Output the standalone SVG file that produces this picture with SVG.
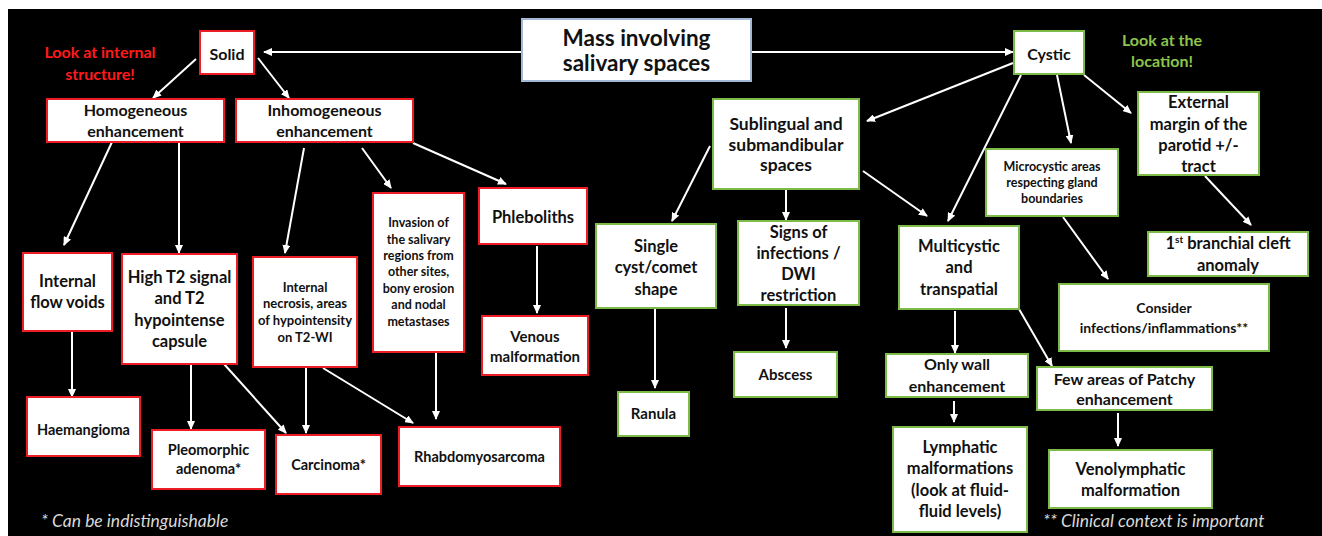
<svg xmlns="http://www.w3.org/2000/svg" width="1322" height="536" viewBox="0 0 1322 536">
<defs>
<marker id="ah" markerWidth="9" markerHeight="8" refX="8" refY="4" orient="auto" markerUnits="userSpaceOnUse">
<path d="M0,0 L9,4 L0,8 Z" fill="#ffffff"/>
</marker>
<style>
.r{fill:#ffffff;stroke:#ee1c24;stroke-width:2}
.g{fill:#ffffff;stroke:#7dbb48;stroke-width:2}
.b{fill:#ffffff;stroke:#a3b8d4;stroke-width:2}
.t{font-family:Lato,"Open Sans",sans-serif;font-weight:bold;fill:#111111;text-anchor:middle}
.c line{stroke:#ffffff;stroke-width:2;marker-end:url(#ah)}
.foot{font-family:Lato,"Open Sans",sans-serif;font-style:italic;fill:#d9d9d9;font-size:17.5px}
</style>
</defs>
<rect x="0" y="0" width="1322" height="536" fill="#ffffff"/>
<rect x="8" y="9" width="1314" height="527" fill="#000000"/>

<text x="100" y="58" font-family="Lato,'Open Sans',sans-serif" font-weight="bold" font-size="16" fill="#ff1a1a" text-anchor="middle"><tspan x="100" y="58">Look at internal</tspan><tspan x="100" y="80">structure!</tspan></text>
<text x="1162" y="46" font-family="Lato,'Open Sans',sans-serif" font-weight="bold" font-size="16" fill="#8cc44c" text-anchor="middle"><tspan x="1162" y="46">Look at the</tspan><tspan x="1162" y="67">location!</tspan></text>

<g class="c" id="connectors">
<line x1="522" y1="52" x2="264" y2="52"/>
<line x1="751" y1="52" x2="1013" y2="52"/>
<line x1="196" y1="59" x2="153" y2="98"/>
<line x1="258" y1="58" x2="289" y2="98"/>
<line x1="1013" y1="63" x2="867" y2="121"/>
<line x1="1057" y1="75" x2="1071" y2="143"/>
<line x1="1084" y1="75" x2="1131" y2="113"/>
<line x1="1021" y1="75" x2="948" y2="221"/>
<line x1="1205" y1="176" x2="1251" y2="225"/>
<line x1="1063" y1="217" x2="1108" y2="279"/>
<line x1="710" y1="146" x2="672" y2="221"/>
<line x1="786" y1="189" x2="786" y2="220"/>
<line x1="863" y1="171" x2="927" y2="216"/>
<line x1="786" y1="308" x2="786" y2="348"/>
<line x1="655" y1="308" x2="655" y2="388"/>
<line x1="955" y1="311" x2="955" y2="353"/>
<line x1="1019" y1="309" x2="1052" y2="366"/>
<line x1="954" y1="401" x2="954" y2="422"/>
<line x1="1118" y1="413" x2="1118" y2="446"/>
<line x1="112" y1="142" x2="64" y2="245"/>
<line x1="179" y1="142" x2="179" y2="253"/>
<line x1="304" y1="148" x2="285" y2="253"/>
<line x1="362" y1="148" x2="391" y2="188"/>
<line x1="413" y1="143" x2="506" y2="184"/>
<line x1="537" y1="246" x2="537" y2="313"/>
<line x1="72" y1="331" x2="72" y2="397"/>
<line x1="191" y1="364" x2="191" y2="429"/>
<line x1="224" y1="364" x2="286" y2="433"/>
<line x1="306" y1="367" x2="306" y2="433"/>
<line x1="323" y1="368" x2="413" y2="423"/>
<line x1="436" y1="352" x2="436" y2="419"/>
</g>

<g id="mass"><rect class="b" x="522" y="19" width="229" height="62"/>
<text class="t" font-size="22.5"><tspan x="636.5" y="46">Mass involving</tspan><tspan x="636.5" y="71">salivary spaces</tspan></text></g>

<g id="solid"><rect class="r" x="200" y="31" width="54" height="43"/>
<text class="t" font-size="16" x="227" y="60">Solid</text></g>

<g id="cystic"><rect class="g" x="1014" y="31" width="70" height="43"/>
<text class="t" font-size="16" x="1049" y="60">Cystic</text></g>

<g id="homog"><rect class="r" x="47" y="99" width="177" height="43"/>
<text class="t" font-size="16"><tspan x="135.5" y="116">Homogeneous</tspan><tspan x="135.5" y="137">enhancement</tspan></text></g>

<g id="inhomog"><rect class="r" x="236" y="99" width="177" height="43"/>
<text class="t" font-size="16"><tspan x="324.5" y="116">Inhomogeneous</tspan><tspan x="324.5" y="137">enhancement</tspan></text></g>

<g id="sublingual"><rect class="g" x="713" y="99" width="146" height="90"/>
<text class="t" font-size="17.5"><tspan x="786" y="130">Sublingual and</tspan><tspan x="786" y="151">submandibular</tspan><tspan x="786" y="171">spaces</tspan></text></g>

<g id="microcystic"><rect class="g" x="986" y="149" width="132" height="67"/>
<text class="t" font-size="12.5"><tspan x="1052" y="171">Microcystic areas</tspan><tspan x="1052" y="187">respecting gland</tspan><tspan x="1052" y="203">boundaries</tspan></text></g>

<g id="external"><rect class="g" x="1138" y="92" width="121" height="83"/>
<text class="t" font-size="16.5"><tspan x="1198.5" y="108">External</tspan><tspan x="1198.5" y="130">margin of the</tspan><tspan x="1198.5" y="151">parotid +/-</tspan><tspan x="1198.5" y="172">tract</tspan></text></g>

<g id="branchial"><rect class="g" x="1148" y="232" width="160" height="44"/>
<text class="t" font-size="16.5"><tspan x="1228" y="249">1<tspan font-size="10" dy="-6">st</tspan><tspan dy="6"> branchial cleft</tspan></tspan><tspan x="1228" y="271">anomaly</tspan></text></g>

<g id="consider"><rect class="g" x="1059" y="284" width="210" height="67"/>
<text class="t" font-size="14"><tspan x="1164" y="313">Consider</tspan><tspan x="1164" y="333">infections/inflammations**</tspan></text></g>

<g id="single"><rect class="g" x="596" y="224" width="120" height="84"/>
<text class="t" font-size="16.5"><tspan x="656" y="252">Single</tspan><tspan x="656" y="273">cyst/comet</tspan><tspan x="656" y="295">shape</tspan></text></g>

<g id="signs"><rect class="g" x="738" y="221" width="121" height="84"/>
<text class="t" font-size="16.5"><tspan x="798.5" y="238">Signs of</tspan><tspan x="798.5" y="259">infections /</tspan><tspan x="798.5" y="280">DWI</tspan><tspan x="798.5" y="301">restriction</tspan></text></g>

<g id="multicystic"><rect class="g" x="899" y="226" width="120" height="83"/>
<text class="t" font-size="16.5"><tspan x="959" y="252">Multicystic</tspan><tspan x="959" y="273">and</tspan><tspan x="959" y="295">transpatial</tspan></text></g>

<g id="abscess"><rect class="g" x="734" y="352" width="103" height="45"/>
<text class="t" font-size="15" x="785.5" y="380">Abscess</text></g>

<g id="ranula"><rect class="g" x="618" y="392" width="71" height="44"/>
<text class="t" font-size="15" x="653.5" y="419">Ranula</text></g>

<g id="onlywall"><rect class="g" x="886" y="354" width="142" height="43"/>
<text class="t" font-size="16"><tspan x="957" y="370">Only wall</tspan><tspan x="957" y="392">enhancement</tspan></text></g>

<g id="lymphatic"><rect class="g" x="893" y="427" width="134" height="105"/>
<text class="t" font-size="16.5"><tspan x="960" y="453">Lymphatic</tspan><tspan x="960" y="474">malformations</tspan><tspan x="960" y="496">(look at fluid-</tspan><tspan x="960" y="517">fluid levels)</tspan></text></g>

<g id="fewareas"><rect class="g" x="1037" y="367" width="175" height="43"/>
<text class="t" font-size="16"><tspan x="1124.5" y="385">Few areas of Patchy</tspan><tspan x="1124.5" y="405">enhancement</tspan></text></g>

<g id="venolymphatic"><rect class="g" x="1049" y="450" width="163" height="58"/>
<text class="t" font-size="16.5"><tspan x="1130.5" y="475">Venolymphatic</tspan><tspan x="1130.5" y="496">malformation</tspan></text></g>

<g id="flowvoids"><rect class="r" x="23" y="253" width="89" height="78"/>
<text class="t" font-size="16.5"><tspan x="67.5" y="287">Internal</tspan><tspan x="67.5" y="308">flow voids</tspan></text></g>

<g id="hight2"><rect class="r" x="122" y="254" width="115" height="110"/>
<text class="t" font-size="16.5"><tspan x="179.5" y="283">High T2 signal</tspan><tspan x="179.5" y="304">and T2</tspan><tspan x="179.5" y="326">hypointense</tspan><tspan x="179.5" y="347">capsule</tspan></text></g>

<g id="necrosis"><rect class="r" x="253" y="257" width="104" height="110"/>
<text class="t" font-size="13"><tspan x="305" y="292">Internal</tspan><tspan x="305" y="308">necrosis, areas</tspan><tspan x="305" y="325">of hypointensity</tspan><tspan x="305" y="342">on T2-WI</tspan></text></g>

<g id="invasion"><rect class="r" x="373" y="193" width="91" height="159"/>
<text class="t" font-size="12.5"><tspan x="418.5" y="227">Invasion of</tspan><tspan x="418.5" y="244">the salivary</tspan><tspan x="418.5" y="260">regions from</tspan><tspan x="418.5" y="276">other sites,</tspan><tspan x="418.5" y="293">bony erosion</tspan><tspan x="418.5" y="309">and nodal</tspan><tspan x="418.5" y="326">metastases</tspan></text></g>

<g id="phleboliths"><rect class="r" x="479" y="188" width="108" height="56"/>
<text class="t" font-size="16.5" x="533" y="223">Phleboliths</text></g>

<g id="venous"><rect class="r" x="482" y="316" width="106" height="59"/>
<text class="t" font-size="15"><tspan x="535" y="342">Venous</tspan><tspan x="535" y="362">malformation</tspan></text></g>

<g id="haemangioma"><rect class="r" x="27" y="397" width="113" height="59"/>
<text class="t" font-size="14.5" x="83.5" y="435">Haemangioma</text></g>

<g id="pleomorphic"><rect class="r" x="152" y="430" width="113" height="59"/>
<text class="t" font-size="14.5"><tspan x="208.5" y="455">Pleomorphic</tspan><tspan x="208.5" y="474">adenoma*</tspan></text></g>

<g id="carcinoma"><rect class="r" x="276" y="435" width="105" height="59"/>
<text class="t" font-size="14.5" x="328.5" y="470">Carcinoma*</text></g>

<g id="rhabdo"><rect class="r" x="399" y="427" width="161" height="59"/>
<text class="t" font-size="14.5" x="479.5" y="462">Rhabdomyosarcoma</text></g>

<text class="foot" x="41" y="527">* Can be indistinguishable</text>
<text class="foot" x="1043" y="527">** Clinical context is important</text>
</svg>
